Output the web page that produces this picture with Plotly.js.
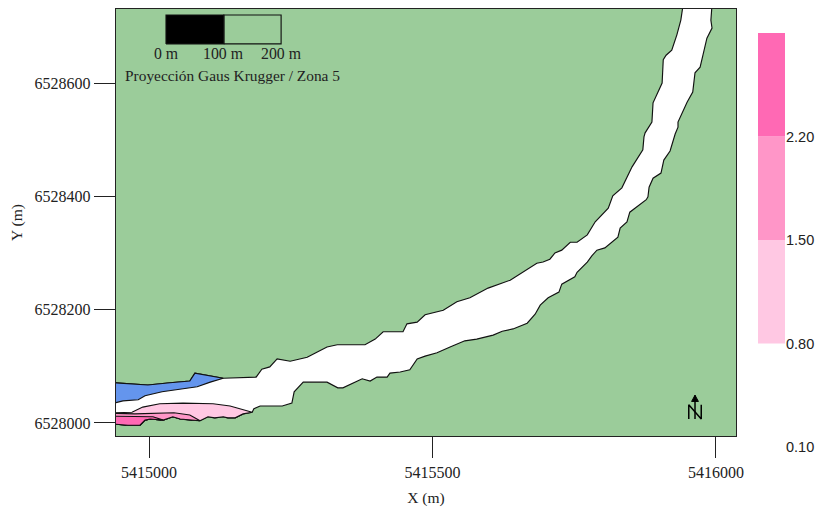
<!DOCTYPE html>
<html><head><meta charset="utf-8">
<script src="https://cdn.plot.ly/plotly-3.0.1.min.js"></script>
<style>html,body{margin:0;padding:0;background:#fff}</style></head>
<body><div id="chart" style="width:822px;height:508px"></div>
<script>
// Metres east / north of the reference tick 5415000, 6528000
const originE = 5415000, originN = 6528000;

const northBankE = [-62,-28,-2,37,72,81,131,189,199,213,226,249,279,296,314,332,381,399,413,448,455,473,487,519,543,566,598,637,658,684,695,707,716,728,743,755,773,787,810,818,834,852,871,873,875,887,889,905,907,912,922,931,938,942];
const northBankN = [71,69,67,71,74,88,79,81,95,99,113,109,116,125,134,138,138,148,161,161,175,178,191,199,214,221,238,252,265,282,284,289,300,305,319,319,332,355,379,401,415,452,482,505,512,531,565,600,641,649,658,685,711,738];

const southBankE = [993,991,993,984,977,972,963,959,949,940,933,933,928,919,908,903,889,882,880,877,848,843,831,827,804,790,781,773,755,751,728,723,704,690,681,667,642,623,607,578,557,531,508,487,473,460,443,425,420,402,390,376,349,342,333,314,272,256,252,235,196,185,182];
const southBankN = [738,711,697,679,649,628,618,584,566,547,531,522,510,480,464,441,432,416,399,394,372,355,344,328,309,305,295,284,266,258,245,231,221,208,192,176,166,162,155,148,145,134,124,118,113,94,90,88,81,81,74,78,65,62,62,72,72,55,35,30,30,25,19];

const westShoreE = [166,152,139,131,116,104,90,72,55,42,25,2,-7,-16,-37,-62];
const westShoreN = [16,9,9,11,9,11,4,5,7,11,5,7,5,-4,-4,-2];

const blueBelowE = [108,85,23,-7,-19,-46,-62];
const blueBelowN = [72,64,55,48,41,39,35];
const blueAboveE = [-62,-28,-2,37,72,81,131];
const blueAboveN = [71,69,67,71,74,88,79];

const lightTopE = [-62,-30,-11,19,60,113,143,166,182];
const lightTopN = [18,19,28,34,35,34,30,23,19];
const midTopE = [-62,-25,44,55,72];
const midTopN = [17,16,18,16,14];
const hotTopE = [-62,-42,7];
const hotTopN = [12,12,11];

const scaleBarE = [30,132,233];
const scaleBarN = [669,720];
const scaleLabels = ['0 m','100 m','200 m'];
const scaleLabelN = 652;

const northLetterE = [952,952,974,974];
const northLetterN = [7,32,7,32];
const northShaftE = [963,963];
const northShaftN = [7,49];
const northHeadE = [957,963,969,957];
const northHeadN = [38,49,38,38];

const classEdges = [0.1,0.8,1.5,2.2,2.9];
const classColors = ['#ffffff','#ffc8e3','#ff96c8','#ff69b4'];
const classLabels = ['0.10','0.80','1.50','2.20'];

const xTicks = [5415000,5415500,5416000];
const yTicks = [6528000,6528200,6528400,6528600];

const E = a => a.map(v => v + originE);
const N = a => a.map(v => v + originN);
const serif = 'Liberation Serif';
const outline = {color:'#111', width:1.15};
const poly = (xs, ys, fill, line) => ({x:E(xs), y:N(ys), mode:'lines', fill:'toself', fillcolor:fill,
  line: line || outline, hoverinfo:'skip', showlegend:false, xaxis:'x', yaxis:'y'});

const traces = [
  poly(northBankE.concat(southBankE, westShoreE), northBankN.concat(southBankN, westShoreN), '#ffffff'),
  poly(blueAboveE.concat(blueBelowE), blueAboveN.concat(blueBelowN), '#6495ed'),
  poly(lightTopE.concat(westShoreE), lightTopN.concat(westShoreN), classColors[1]),
  poly(midTopE.concat(westShoreE.slice(6)), midTopN.concat(westShoreN.slice(6)), classColors[2]),
  poly(hotTopE.concat(westShoreE.slice(10)), hotTopN.concat(westShoreN.slice(10)), classColors[3]),
  poly([scaleBarE[0],scaleBarE[1],scaleBarE[1],scaleBarE[0],scaleBarE[0]],
       [scaleBarN[0],scaleBarN[0],scaleBarN[1],scaleBarN[1],scaleBarN[0]], '#000000'),
  poly([scaleBarE[1],scaleBarE[2],scaleBarE[2],scaleBarE[1],scaleBarE[1]],
       [scaleBarN[0],scaleBarN[0],scaleBarN[1],scaleBarN[1],scaleBarN[0]], 'rgba(0,0,0,0)'),
  {x:E(northLetterE), y:N(northLetterN), mode:'lines', line:{color:'#000',width:1.5}, hoverinfo:'skip', showlegend:false},
  {x:E(northShaftE), y:N(northShaftN), mode:'lines', line:{color:'#000',width:1.5}, hoverinfo:'skip', showlegend:false},
  poly(northHeadE, northHeadN, '#000000', {color:'#000',width:1}),
  {type:'bar', x:classColors.map(()=>0), y:classEdges.slice(1).map((v,i)=>v-classEdges[i]), base:classEdges.slice(0,-1),
   width:1, marker:{color:classColors, line:{width:0}}, hoverinfo:'skip', showlegend:false, xaxis:'x2', yaxis:'y2'}
];

const annotations = scaleLabels.map((t,i)=>({x:scaleBarE[i]+originE, y:scaleLabelN+originN, xref:'x', yref:'y', text:t,
  showarrow:false, font:{family:serif,size:15.8,color:'#222'}, xanchor:'center', yanchor:'middle'}));
annotations.push({x:148+originE, y:614+originN, xref:'x', yref:'y', text:'Proyección Gaus Krugger / Zona 5',
  showarrow:false, font:{family:serif,size:15.4,color:'#222'}, xanchor:'center', yanchor:'middle'});

const layout = {
  width:822, height:508, margin:{l:116,r:37,t:9,b:61,pad:0}, paper_bgcolor:'#fff', plot_bgcolor:'#fff',
  barmode:'overlay', showlegend:false, annotations,
  shapes:[{type:'rect',xref:'x domain',yref:'y domain',x0:0,x1:1,y0:0,y1:1,fillcolor:'#9bcc9a',line:{width:0},layer:'below'}],
  xaxis:{domain:[0,620/669], range:[originE-58.2,originE+1035.3], anchor:'y', tickmode:'array', tickvals:xTicks, ticktext:xTicks.map(String),
    ticks:'outside', ticklen:21, tickwidth:1, tickcolor:'#222', showgrid:false, zeroline:false, showline:true, mirror:true, linecolor:'#222', linewidth:1.3,
    tickfont:{family:serif,size:16,color:'#222'}, title:{text:'X (m)',font:{family:serif,size:15.5,color:'#222'},standoff:12}},
  yaxis:{domain:[11/438,1], range:[originN-23,originN+730.6], anchor:'x', tickmode:'array', tickvals:yTicks, ticktext:yTicks.map(String),
    ticks:'outside', ticklen:21, tickwidth:1, tickcolor:'#222', showgrid:false, zeroline:false, showline:true, mirror:true, linecolor:'#222', linewidth:1.3,
    tickfont:{family:serif,size:16,color:'#222'}, title:{text:'Y (m)',font:{family:serif,size:15.5,color:'#222'},standoff:8}},
  xaxis2:{domain:[642/669,1], range:[-0.5,0.5], anchor:'y2', visible:false, fixedrange:true},
  yaxis2:{domain:[0,414/438], range:[classEdges[0],classEdges[4]], anchor:'x2', side:'right', tickmode:'array', tickvals:classEdges.slice(0,4), ticktext:classLabels,
    ticks:'', showgrid:false, zeroline:false, showline:false, tickfont:{family:'Liberation Sans',size:14.5,color:'#222'}, fixedrange:true}
};
Plotly.newPlot('chart', traces, layout, {displayModeBar:false, staticPlot:true});
</script></body></html>
